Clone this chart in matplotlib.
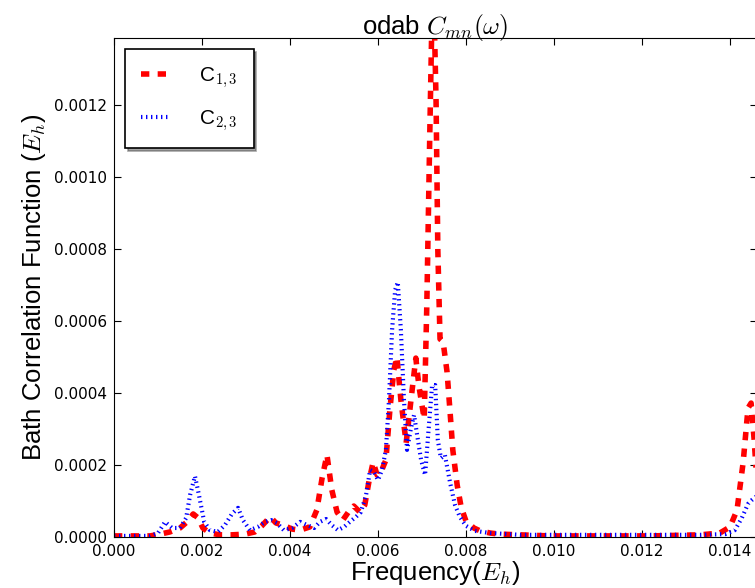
import matplotlib
matplotlib.use("Agg")
import matplotlib.pyplot as plt
from matplotlib.ticker import MultipleLocator, FormatStrFormatter

# ---- data (frequency in Eh, correlation in Eh) ----
c13_freq = [0.00000, 0.00036, 0.00082, 0.00105, 0.00127, 0.00150, 0.00166, 0.00180, 0.00191,
            0.00202, 0.00218, 0.00241, 0.00268, 0.00298, 0.00320, 0.00336, 0.00355, 0.00368,
            0.00384, 0.00405, 0.00423, 0.00445, 0.00461, 0.00473, 0.00484, 0.00495, 0.00507,
            0.00520, 0.00536, 0.00545, 0.00559, 0.00570, 0.00580, 0.00589, 0.00598, 0.00607,
            0.00618, 0.00627, 0.00636, 0.00643, 0.00652, 0.00664, 0.00675, 0.00686, 0.00693,
            0.00705, 0.00711, 0.00718, 0.00725, 0.00732, 0.00736, 0.00741, 0.00748, 0.00757,
            0.00764, 0.00770, 0.00780, 0.00789, 0.00800, 0.00818, 0.00832, 0.00855, 0.00877,
            0.00923, 0.00991, 0.01105, 0.01218, 0.01332, 0.01377, 0.01400, 0.01416, 0.01430,
            0.01441, 0.01448, 0.01455, 0.01464]
c13_vals = [0.000003, 0.000003, 0.000003, 0.000008, 0.000014, 0.000025, 0.000042, 0.000064, 0.000053,
            0.000025, 0.000011, 0.000006, 0.000006, 0.000008, 0.000014, 0.000031, 0.000056, 0.000039,
            0.000033, 0.000022, 0.000019, 0.000028, 0.000075, 0.000164, 0.000228, 0.000131, 0.000069,
            0.000047, 0.000075, 0.000086, 0.000069, 0.000089, 0.000158, 0.000208, 0.000172, 0.000181,
            0.000214, 0.000353, 0.000464, 0.000500, 0.000381, 0.000261, 0.000381, 0.000497, 0.000419,
            0.000328, 0.000647, 0.001140, 0.001600, 0.001210, 0.000797, 0.000550, 0.000542, 0.000458,
            0.000344, 0.000242, 0.000144, 0.000083, 0.000044, 0.000025, 0.000017, 0.000011, 0.000008,
            0.000006, 0.000003, 0.000003, 0.000003, 0.000006, 0.000011, 0.000028, 0.000075, 0.000208,
            0.000358, 0.000372, 0.000269, 0.000103]

c23_freq = [0.00000, 0.00036, 0.00082, 0.00100, 0.00116, 0.00132, 0.00150, 0.00164, 0.00173,
            0.00184, 0.00193, 0.00205, 0.00218, 0.00236, 0.00252, 0.00268, 0.00282, 0.00293,
            0.00309, 0.00327, 0.00343, 0.00357, 0.00370, 0.00386, 0.00405, 0.00423, 0.00439,
            0.00455, 0.00468, 0.00482, 0.00495, 0.00509, 0.00523, 0.00536, 0.00550, 0.00561,
            0.00573, 0.00582, 0.00591, 0.00600, 0.00609, 0.00618, 0.00625, 0.00632, 0.00639,
            0.00645, 0.00652, 0.00659, 0.00666, 0.00675, 0.00682, 0.00689, 0.00698, 0.00707,
            0.00714, 0.00723, 0.00730, 0.00736, 0.00743, 0.00752, 0.00764, 0.00775, 0.00786,
            0.00800, 0.00820, 0.00855, 0.00923, 0.01105, 0.01332, 0.01389, 0.01411, 0.01427,
            0.01441, 0.01450, 0.01464]
c23_vals = [0.000003, 0.000003, 0.000003, 0.000011, 0.000042, 0.000025, 0.000025, 0.000053, 0.000117,
            0.000169, 0.000117, 0.000042, 0.000019, 0.000014, 0.000033, 0.000064, 0.000081, 0.000047,
            0.000019, 0.000028, 0.000042, 0.000047, 0.000039, 0.000019, 0.000025, 0.000042, 0.000033,
            0.000025, 0.000042, 0.000050, 0.000033, 0.000019, 0.000028, 0.000042, 0.000056, 0.000069,
            0.000117, 0.000186, 0.000181, 0.000158, 0.000186, 0.000242, 0.000381, 0.000575, 0.000686,
            0.000708, 0.000575, 0.000381, 0.000242, 0.000303, 0.000339, 0.000283, 0.000214, 0.000172,
            0.000283, 0.000422, 0.000422, 0.000269, 0.000219, 0.000228, 0.000150, 0.000089, 0.000056,
            0.000031, 0.000017, 0.000011, 0.000006, 0.000006, 0.000006, 0.000008, 0.000019, 0.000053,
            0.000092, 0.000103, 0.000117]

x_major = 0.002
y_major = 0.0002
x_max = 0.014614
y_max = 0.001386

title_text = r"odab $C_{mn}(\omega)$"
xlabel_text = r"Frequency($E_h$)"
ylabel_text = r"Bath Correlation Function ($E_h$)"
labels = [r"C$_{1,3}$", r"C$_{2,3}$"]

plt.rcParams["mathtext.fontset"] = "cm"
plt.rcParams["font.family"] = ["Liberation Sans", "DejaVu Sans"]
plt.rcParams["lines.scale_dashes"] = False

fig = plt.figure(figsize=(7.55, 5.88), dpi=100)
ax = fig.add_axes([114 / 755, 51 / 588, (757 - 114) / 755, (537 - 38) / 588])

ax.plot(c13_freq, c13_vals, color="red", linestyle="--", linewidth=4, label=labels[0],
        dashes=(6, 6), dash_capstyle="butt")
ax.plot(c23_freq, c23_vals, color="blue", linestyle=":", linewidth=3, label=labels[1],
        dashes=(1, 2.6), dash_capstyle="butt")

ax.set_xlim(0, x_max)
ax.set_ylim(0, y_max)
ax.xaxis.set_major_locator(MultipleLocator(x_major))
ax.yaxis.set_major_locator(MultipleLocator(y_major))
ax.xaxis.set_major_formatter(FormatStrFormatter("%.3f"))
ax.yaxis.set_major_formatter(FormatStrFormatter("%.4f"))
ax.tick_params(direction="in", top=True, right=True, length=5, width=0.8, labelsize=11,
               pad=5)
for lab in ax.get_xticklabels() + ax.get_yticklabels():
    lab.set_family("DejaVu Sans")

ax.set_title(title_text, fontsize=18.5, pad=3)
ax.set_xlabel(xlabel_text, fontsize=18.5, labelpad=0)
ax.set_ylabel(ylabel_text, fontsize=18.5, labelpad=4)

leg = ax.legend(loc="upper left", fontsize=15, shadow=True, fancybox=False,
                framealpha=1, edgecolor="black", handlelength=1.3, handletextpad=1.5,
                borderpad=0.75, labelspacing=0.85, borderaxespad=0.55)
leg.get_frame().set_linewidth(1.2)

fig.savefig("out.png", dpi=100)
